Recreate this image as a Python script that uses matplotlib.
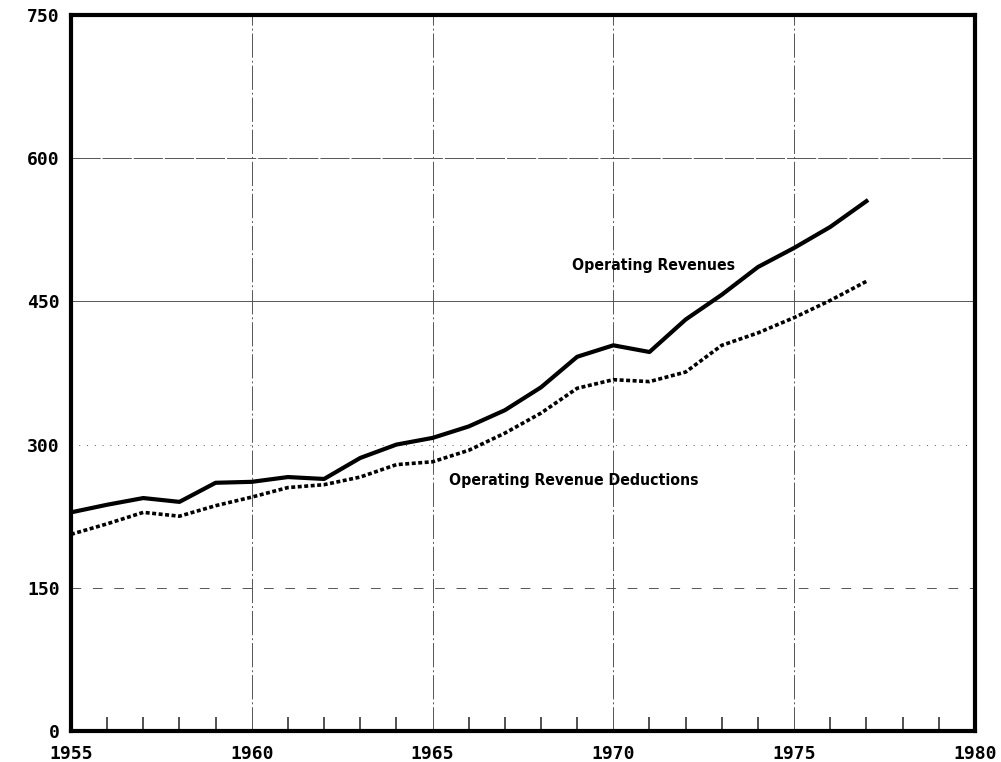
import matplotlib.pyplot as plt
from matplotlib.ticker import MultipleLocator

years = list(range(1955, 1978))
revenues = [229, 237, 244, 240, 260, 261, 266, 264, 286, 300, 307, 319, 336, 360, 392, 404, 397, 431, 457, 486, 506, 528, 555]
deductions = [206, 217, 229, 225, 236, 245, 255, 258, 266, 279, 282, 294, 312, 333, 359, 368, 366, 376, 404, 417, 433, 451, 471]

x_ticks = [1955, 1960, 1965, 1970, 1975, 1980]
y_ticks = [0, 150, 300, 450, 600, 750]

fig = plt.figure(figsize=(10.01, 7.62), dpi=100)
ax = fig.add_axes([0.0709, 0.0407, 0.903, 0.9396])

ax.plot(years, revenues, color='black', linewidth=3.0, solid_joinstyle='round')
ax.plot(years, deductions, color='black', linewidth=2.6, linestyle=(0, (1.1, 0.7)))

ax.set_xlim(1955, 1980)
ax.set_ylim(0, 750)
ax.set_xticks(x_ticks)
ax.set_yticks(y_ticks)
ax.xaxis.set_minor_locator(MultipleLocator(1))

tick_font = {'family': 'DejaVu Sans Mono', 'weight': 'bold', 'size': 13}
ax.set_xticklabels([str(t) for t in x_ticks], fontdict=tick_font)
ax.set_yticklabels([str(t) for t in y_ticks], fontdict=tick_font)
ax.tick_params(axis='both', which='major', length=0, pad=8)
ax.tick_params(axis='x', which='major', pad=10)
ax.tick_params(axis='x', which='minor', direction='in', length=10, width=1.1, color='#222222')

for s in ax.spines.values():
    s.set_linewidth(3.0)

# grid (photocopied look: some lines solid, some broken)
ax.grid(True, which='major', color='#555555', linewidth=0.7)
ystyles = {0: '-', 150: (0, (10, 12)), 300: (0, (1, 7)), 450: '-', 600: (0, (30, 2)), 750: '-'}
for t, gl in zip(y_ticks, ax.yaxis.get_gridlines()):
    gl.set_linestyle(ystyles[t])
for gl in ax.xaxis.get_gridlines():
    gl.set_linestyle((0, (25, 3, 2, 3)))
    gl.set_linewidth(0.7)

label_font = dict(family='DejaVu Sans', weight='bold', size=11.3, fontstretch='condensed')
ax.text(1968.86, 488, 'Operating Revenues', ha='left', va='center', **label_font)
ax.text(1965.45, 262, 'Operating Revenue Deductions', ha='left', va='center', **label_font)

fig.savefig('out.png', dpi=100)
